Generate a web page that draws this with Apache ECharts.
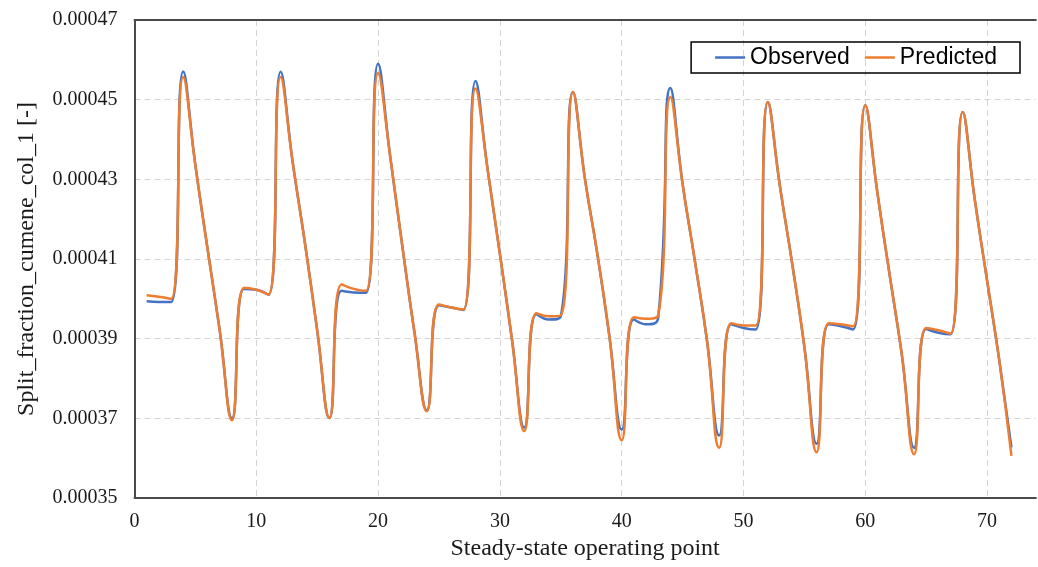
<!DOCTYPE html>
<html>
<head>
<meta charset="utf-8">
<script src="https://cdn.jsdelivr.net/npm/echarts@6/dist/echarts.min.js"></script>
<style>
html,body{margin:0;padding:0;background:#fff;}
#chart{width:1038px;height:567px;}
</style>
</head>
<body>
<div id="chart"></div>
<script>
const seriesNames = ['Observed', 'Predicted'];
const xTitle = 'Steady-state operating point';
const yTitle = 'Split_fraction_cumene_col_1 [-]';

const operatingPoints = [1,2,3,4,5,6,7,8,9,10,11,12,13,14,15,16,17,18,19,20,21,22,23,24,
  25,26,27,28,29,30,31,32,33,34,35,36,37,38,39,40,41,42,43,44,45,46,47,48,
  49,50,51,52,53,54,55,56,57,58,59,60,61,62,63,64,65,66,67,68,69,70,71,72];

const observed = [
  0.0003994, 0.0003992, 0.0003992, 0.0004571, 0.0004335, 0.0004125, 0.0003920, 0.0003700,
  0.0004025, 0.0004023, 0.0004010, 0.0004570, 0.0004340, 0.0004139, 0.0003921, 0.0003701,
  0.0004020, 0.0004016, 0.0004015, 0.0004590, 0.0004356, 0.0004130, 0.0003913, 0.0003720,
  0.0003984, 0.0003978, 0.0003972, 0.0004547, 0.0004323, 0.0004113, 0.0003896, 0.0003677,
  0.0003961, 0.0003948, 0.0003956, 0.0004519, 0.0004298, 0.0004113, 0.0003904, 0.0003672,
  0.0003948, 0.0003936, 0.0003953, 0.0004529, 0.0004289, 0.0004097, 0.0003896, 0.0003657,
  0.0003936, 0.0003927, 0.0003923, 0.0004494, 0.0004281, 0.0004088, 0.0003879, 0.0003636,
  0.0003936, 0.0003931, 0.0003923, 0.0004486, 0.0004265, 0.0004060, 0.0003860, 0.0003626,
  0.0003924, 0.0003915, 0.0003911, 0.0004469, 0.0004247, 0.0004046, 0.0003846, 0.0003627
];

const predicted = [
  0.0004009, 0.0004005, 0.0004000, 0.0004557, 0.0004335, 0.0004125, 0.0003920, 0.0003695,
  0.0004028, 0.0004023, 0.0004011, 0.0004557, 0.0004340, 0.0004139, 0.0003921, 0.0003701,
  0.0004036, 0.0004025, 0.0004020, 0.0004567, 0.0004356, 0.0004130, 0.0003913, 0.0003718,
  0.0003986, 0.0003978, 0.0003973, 0.0004528, 0.0004323, 0.0004113, 0.0003896, 0.0003668,
  0.0003964, 0.0003956, 0.0003958, 0.0004519, 0.0004298, 0.0004113, 0.0003904, 0.0003645,
  0.0003954, 0.0003950, 0.0003959, 0.0004507, 0.0004289, 0.0004097, 0.0003896, 0.0003626,
  0.0003939, 0.0003933, 0.0003933, 0.0004494, 0.0004281, 0.0004088, 0.0003879, 0.0003615,
  0.0003939, 0.0003936, 0.0003931, 0.0004486, 0.0004265, 0.0004060, 0.0003860, 0.0003610,
  0.0003927, 0.0003921, 0.0003913, 0.0004469, 0.0004247, 0.0004046, 0.0003846, 0.0003606
];

const yMin = 0.00035, yMax = 0.00047, yStep = 0.00002;
const xMin = 0, xMax = 74, xStep = 10;

const colors = ['#4472C4', '#ED7D31'];
const serif = '"Liberation Serif", "DejaVu Serif", serif';
const axisDark = '#4a4a4a';
const gridStyle = {color: '#d4d4d4', width: 1, type: [6, 4]};

const chart = echarts.init(document.getElementById('chart'), null, {renderer: 'canvas'});

function pairs(vals) { return operatingPoints.map((x, i) => [x, vals[i]]); }

chart.setOption({
  animation: false,
  backgroundColor: '#fff',
  grid: {left: 134.5, top: 20, right: 2.2, height: 478, show: false},
  legend: {
    top: 42, right: 18,
    padding: [4, 23, 4, 24],
    borderColor: '#000', borderWidth: 1.5,
    itemGap: 15, itemWidth: 30, itemHeight: 2.5,
    icon: 'rect',
    textStyle: {fontFamily: '"Liberation Sans", Arial, sans-serif', fontSize: 23, color: '#000'},
    data: seriesNames
  },
  xAxis: [{
    type: 'value', min: xMin, max: xMax, interval: xStep, position: 'bottom',
    name: xTitle, nameLocation: 'middle', nameGap: 36,
    nameTextStyle: {fontFamily: serif, fontSize: 24, color: '#1a1a1a'},
    axisLine: {show: true, onZero: false, lineStyle: {color: axisDark, width: 2}},
    axisTick: {show: false},
    axisLabel: {fontFamily: serif, fontSize: 20, color: '#1a1a1a', margin: 14, showMaxLabel: false},
    splitLine: {show: true, showMinLine: false, showMaxLine: false, lineStyle: gridStyle}
  }, {
    type: 'value', min: xMin, max: xMax, interval: xStep, position: 'top',
    axisLine: {show: true, onZero: false, lineStyle: {color: axisDark, width: 2}},
    axisTick: {show: false}, axisLabel: {show: false}, splitLine: {show: false}
  }],
  yAxis: {
    type: 'value', min: yMin, max: yMax, interval: yStep,
    name: yTitle, nameLocation: 'middle', nameGap: 96,
    nameTextStyle: {fontFamily: serif, fontSize: 24, color: '#1a1a1a'},
    axisLine: {show: true, onZero: false, lineStyle: {color: axisDark, width: 2}},
    axisTick: {show: false},
    axisLabel: {fontFamily: serif, fontSize: 20, color: '#1a1a1a', margin: 17,
      formatter: v => v.toFixed(5)},
    splitLine: {show: true, showMinLine: false, showMaxLine: false, lineStyle: gridStyle}
  },
  series: [
    {name: seriesNames[0], type: 'line', data: pairs(observed), smooth: 0.5, symbol: 'none',
     lineStyle: {color: colors[0], width: 2.5}, itemStyle: {color: colors[0]}, z: 2},
    {name: seriesNames[1], type: 'line', data: pairs(predicted), smooth: 0.5, symbol: 'none',
     lineStyle: {color: colors[1], width: 2.5}, itemStyle: {color: colors[1]}, z: 3}
  ]
});
</script>
</body>
</html>
